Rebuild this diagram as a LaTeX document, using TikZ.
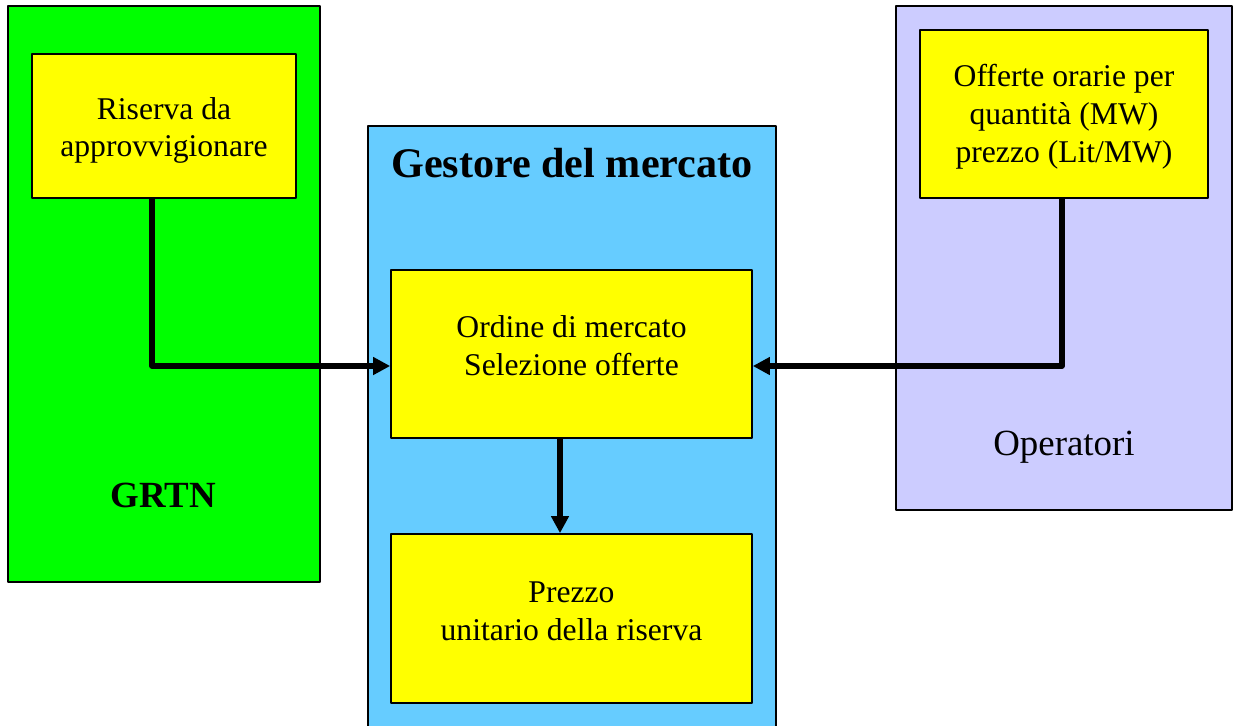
\documentclass[tikz,border=0pt]{standalone}
\usepackage{fontspec}
\setmainfont{Liberation Serif}
\usetikzlibrary{arrows.meta}
\definecolor{verde}{RGB}{0,255,0}
\definecolor{celeste}{RGB}{102,204,255}
\definecolor{lilla}{RGB}{204,204,255}
\definecolor{giallo}{RGB}{255,255,0}
\begin{document}
\begin{tikzpicture}[x=0.02cm,y=-0.02cm,>={Triangle[length=0.34cm,width=0.34cm]},line join=round,
    area/.style={draw,line width=1pt,inner sep=0pt},
    casella/.style={draw,fill=giallo,line width=1pt,inner sep=0pt},
    testo/.style={align=center,inner sep=0pt,font=\fontsize{18}{21.5}\selectfont},
    freccia/.style={->,line width=3pt}]
            \useasboundingbox (0,0) rectangle (1233,725);
            % sfondi
            \node[area,fill=verde,minimum width=6.24cm,minimum height=11.52cm] (grtn) at (164,294) {};
            \node[area,fill=celeste,minimum width=8.16cm,minimum height=12.28cm] (gestore) at (572,433) {};
            \node[area,fill=lilla,minimum width=6.72cm,minimum height=10.08cm] (operatori) at (1064,258) {};
            % caselle
            \node[casella,minimum width=5.28cm,minimum height=2.88cm] (riserva) at (164,126) {};
            \node[casella,minimum width=5.76cm,minimum height=3.36cm] (offerte) at (1064,114) {};
            \node[casella,minimum width=7.22cm,minimum height=3.36cm] (ordine) at (571.5,354) {};
            \node[casella,minimum width=7.22cm,minimum height=3.38cm] (prezzo) at (571.5,618.5) {};
            \node[testo] (riservaT) at ([yshift=-0.09cm]riserva.center) {Riserva da\\approvvigionare};
            \node[testo] (offerteT) at ([yshift=-0.05cm]offerte.center) {Offerte orarie per\\quantità (MW)\\prezzo (Lit/MW)};
            \node[testo] (ordineT) at ([yshift=0.16cm]ordine.center) {Ordine di mercato\\Selezione offerte};
            \node[testo] (prezzoT) at ([yshift=0.15cm]prezzo.center) {Prezzo\\unitario della riserva};
            % etichette
            \node[font=\fontsize{24}{28}\selectfont\bfseries] (titolo) at (572,163) {Gestore del mercato};
            \node[font=\fontsize{21}{25}\selectfont\bfseries] (sigla) at (163,495) {GRTN};
            \node[font=\fontsize{21}{25}\selectfont] (nomeop) at (1064,447) {Operatori};
            % collegamenti
            \coordinate (gomitoA) at ([xshift=-0.24cm]riserva.south |- 0,366);
            \coordinate (gomitoB) at ([xshift=-0.04cm]offerte.south |- 0,366);
            \draw[freccia] ([xshift=-0.24cm]riserva.south) -- (gomitoA) -- (gomitoA -| ordine.west);
            \draw[freccia] ([xshift=-0.04cm]offerte.south) -- (gomitoB) -- (gomitoB -| ordine.east);
            \draw[freccia] ([xshift=-0.23cm]ordine.south) -- ([xshift=-0.23cm]prezzo.north);

        \end{tikzpicture}
\end{document}
